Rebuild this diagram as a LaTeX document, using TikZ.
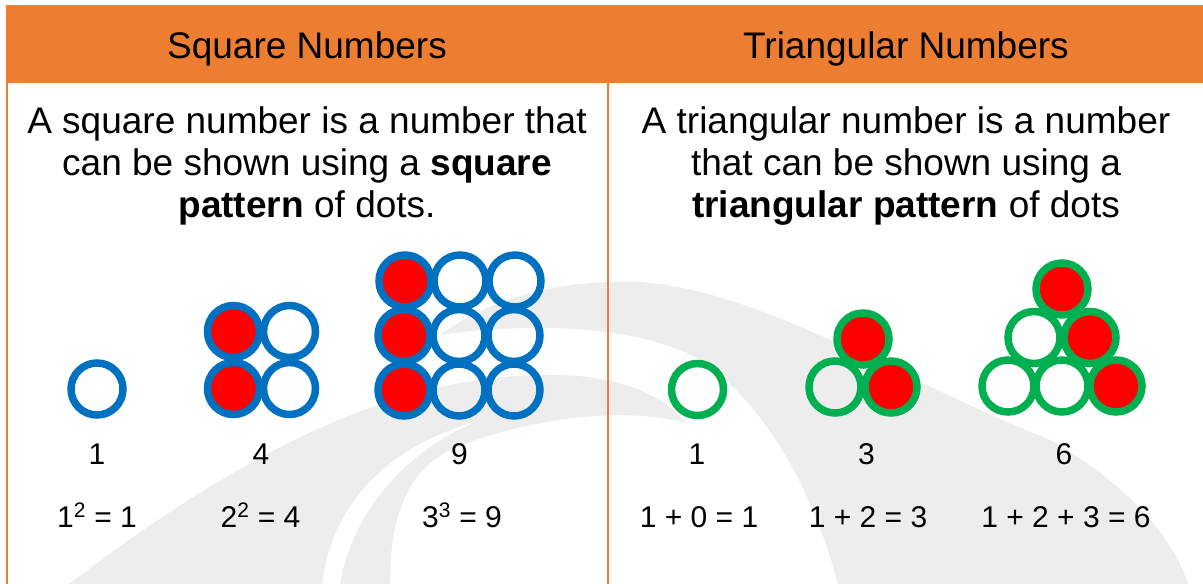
\documentclass[tikz,border=0pt]{standalone}
\usepackage{fontspec}
\setmainfont{Liberation Sans}
\definecolor{hdr}{HTML}{ED7D31}
\definecolor{dotblue}{HTML}{0070C0}
\definecolor{dotgreen}{HTML}{00B050}
\definecolor{wm}{HTML}{EDEDED}
\begin{document}
\begin{tikzpicture}[x=1pt,y=-1pt,
  ring/.style={circle,line width=7.5pt,minimum size=52pt,inner sep=0pt,outer sep=0pt},
  sq/.style={ring,draw=dotblue},
  tri/.style={ring,draw=dotgreen},
  hot/.style={fill=red},
  head/.style={inner sep=0pt,anchor=base,font=\fontsize{37}{42}\selectfont},
  body/.style={inner sep=0pt,anchor=base,font=\fontsize{37}{42}\selectfont},
  num/.style={inner sep=0pt,anchor=base,font=\fontsize{30}{34}\selectfont}]
\useasboundingbox (0,0) rectangle (1203,584);
\fill[white] (0,0) rectangle (1203,584);
% watermark: arch
\fill[wm] (440,335) .. controls (500,292) and (570,280) .. (640,282)
  .. controls (760,290) and (900,380) .. (1050,440)
  .. controls (1120,480) and (1170,530) .. (1188,584) -- (838,584)
  .. controls (810,480) and (760,400) .. (700,360)
  .. controls (640,325) and (530,322) .. (440,335) -- cycle;
% watermark: swoosh
\fill[wm] (69,584) .. controls (180,500) and (330,400) .. (480,380)
  .. controls (580,366) and (650,380) .. (686,423)
  .. controls (620,405) and (520,420) .. (450,450)
  .. controls (400,475) and (390,530) .. (390,584) -- cycle;
\fill[white] (322,584) .. controls (332,505) and (385,448) .. (475,422)
  .. controls (405,452) and (352,512) .. (340,584) -- cycle;
% header and frame
\fill[hdr] (6,5) rectangle (1203,83);
\draw[hdr,line width=2pt] (7,83) -- (7,584);
\draw[hdr,line width=2pt] (608,83) -- (608,584);
\node[head] (h1) at (307,58) {Square Numbers};
\node[head] (h2) at (906,58) {Triangular Numbers};
% body text
\node[body] (a1) at (307,133) {A square number is a number that};
\node[body] (a2) at (307,175) {can be shown using a \textbf{square}};
\node[body] (a3) at (307,217) {\textbf{pattern} of dots.};
\node[body] (b1) at (906,133) {A triangular number is a number};
\node[body] (b2) at (906,175) {that can be shown using a};
\node[body] (b3) at (906,217) {\textbf{triangular pattern} of dots};
% square dots
\node[sq] (s1) at (97,389) {};
\node[sq,hot] (s2a) at (233.5,331.5) {};
\node[sq] (s2b) at (289.5,331.5) {};
\node[sq,hot] (s2c) at (233.5,388.5) {};
\node[sq] (s2d) at (289.5,388.5) {};
\node[sq,hot] (s3a) at (405,281) {};
\node[sq] (s3b) at (460,281) {};
\node[sq] (s3c) at (515,281) {};
\node[sq,hot] (s3d) at (404,335.5) {};
\node[sq] (s3e) at (459,335.5) {};
\node[sq] (s3f) at (514,335.5) {};
\node[sq,hot] (s3g) at (404,390) {};
\node[sq] (s3h) at (459,390) {};
\node[sq] (s3i) at (514,390) {};
% triangular dots
\node[tri] (t1) at (697.5,389.5) {};
\node[tri,hot] (t2a) at (863,339) {};
\node[tri] (t2b) at (835,387) {};
\node[tri,hot] (t2c) at (891,387) {};
\node[tri,hot] (t3a) at (1062,289) {};
\node[tri] (t3b) at (1034,337.5) {};
\node[tri,hot] (t3c) at (1090,337.5) {};
\node[tri] (t3d) at (1008,386) {};
\node[tri] (t3e) at (1062,386) {};
\node[tri,hot] (t3f) at (1116,386) {};
% labels
\node[num] (n1) at (97,464) {1};
\node[num] (n4) at (261,464) {4};
\node[num] (n9) at (459.5,464) {9};
\node[num] (m1) at (697,464) {1};
\node[num] (m3) at (866.5,464) {3};
\node[num] (m6) at (1064,464) {6};
\node[num] (e1) at (97,527) {1\textsuperscript{2} = 1};
\node[num] (e4) at (260.5,527) {2\textsuperscript{2} = 4};
\node[num] (e9) at (462,527) {3\textsuperscript{3} = 9};
\node[num] (f1) at (699,527) {1 + 0 = 1};
\node[num] (f3) at (868,527) {1 + 2 = 3};
\node[num] (f6) at (1066,527) {1 + 2 + 3 = 6};
\end{tikzpicture}
\end{document}
